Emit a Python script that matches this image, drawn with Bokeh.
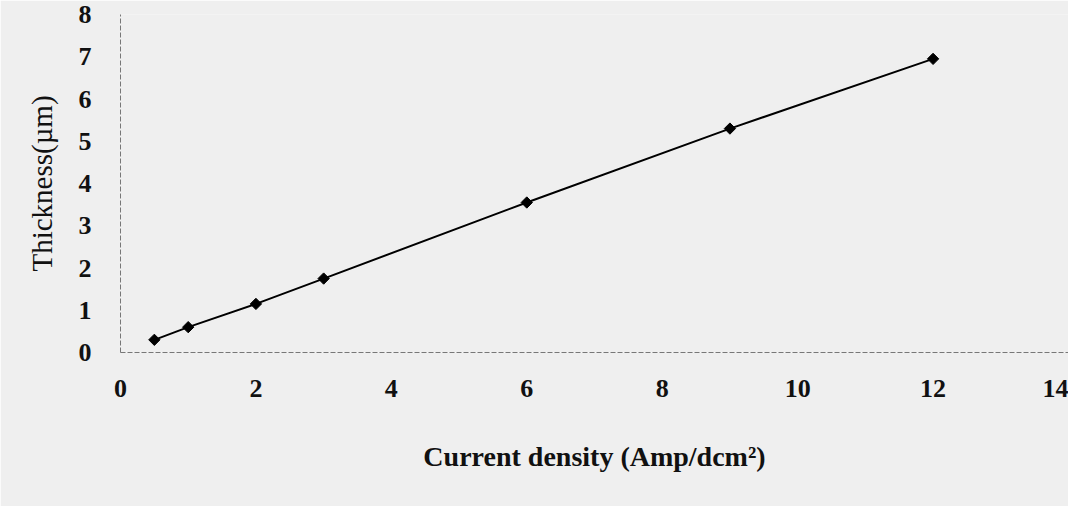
import math
from bokeh.plotting import figure
from bokeh.models import FixedTicker, Range1d
from bokeh.embed import file_html
from bokeh.resources import INLINE

# data
current_density = [0.5, 1, 2, 3, 6, 9, 12]
thickness = [0.3, 0.6, 1.15, 1.75, 3.55, 5.3, 6.95]
x_ticks = [0, 2, 4, 6, 8, 10, 12, 14]
y_ticks = [0, 1, 2, 3, 4, 5, 6, 7, 8]

BG = "#efefef"
FONT = "Liberation Serif"

p = figure(width=1068, height=506, output_backend="svg", toolbar_location=None,
           x_range=Range1d(0, 14), y_range=Range1d(0, 8),
           min_border_left=120, min_border_right=0, min_border_top=14, min_border_bottom=154)
p.background_fill_color = BG
p.border_fill_color = BG
p.outline_line_color = None
p.grid.visible = False

p.line(current_density, thickness, line_color="black", line_width=2)
p.scatter(current_density, thickness, marker="square", size=8, angle=math.pi / 4,
          fill_color="black", line_color="black")

for ax, ticks in ((p.xaxis[0], x_ticks), (p.yaxis[0], y_ticks)):
    ax.ticker = FixedTicker(ticks=ticks)
    ax.major_tick_line_color = None
    ax.minor_tick_line_color = None
    ax.axis_line_color = "#777777"
    ax.axis_line_width = 1
    ax.axis_line_dash = "5 2"
    ax.major_label_text_font = FONT
    ax.major_label_text_font_style = "bold"
    ax.major_label_text_color = "#111111"
    ax.major_label_text_font_size = "26px"

p.xaxis.major_label_standoff = 21
p.yaxis.major_label_standoff = 23

p.xaxis.axis_label = "Current density (Amp/dcm²)"
p.xaxis.axis_label_text_font = FONT
p.xaxis.axis_label_text_font_style = "bold"
p.xaxis.axis_label_text_font_size = "28px"
p.xaxis.axis_label_text_color = "#111111"
p.xaxis.axis_label_standoff = 41

p.yaxis.axis_label = "Thickness(µm)"
p.yaxis.axis_label_text_font = FONT
p.yaxis.axis_label_text_font_style = "normal"
p.yaxis.axis_label_text_font_size = "29px"
p.yaxis.axis_label_text_color = "#111111"
p.yaxis.axis_label_standoff = 18

open("out.html", "w").write(file_html(p, INLINE))
